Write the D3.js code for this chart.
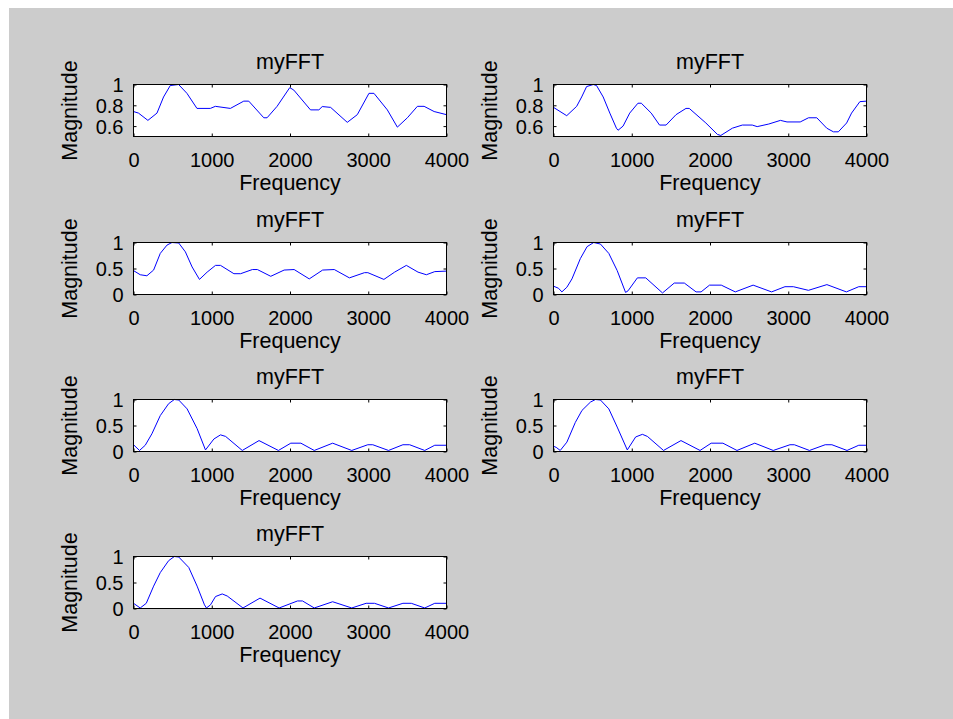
<!DOCTYPE html>
<html>
<head>
<meta charset="utf-8">
<script src="https://cdn.jsdelivr.net/npm/d3@7"></script>
<style>
  html, body { margin: 0; padding: 0; background: #ffffff; }
  svg { display: block; }
  text { font-family: "Liberation Sans", Arial, sans-serif; fill: #000; }
</style>
</head>
<body>
<div id="visualization"></div>
<script>
// ---- data: frequency (Hz) / normalised magnitude ----
const fft1Freq = [0, 64, 184, 300, 384, 470, 576, 683, 811, 982, 1046, 1238, 1409, 1473, 1665, 1707, 1835, 1997, 2049, 2262, 2369, 2412, 2519, 2732, 2860, 3009, 3073, 3244, 3372, 3500, 3628, 3714, 3842, 4000];
const fft1Mag  = [0.74, 0.725, 0.655, 0.725, 0.88, 0.99, 1.0, 0.915, 0.77, 0.77, 0.79, 0.77, 0.84, 0.84, 0.68, 0.68, 0.79, 0.97, 0.946, 0.756, 0.756, 0.788, 0.78, 0.636, 0.71, 0.915, 0.915, 0.756, 0.59, 0.68, 0.79, 0.79, 0.74, 0.71];

const fft2Freq = [0, 169, 296, 360, 423, 508, 550, 635, 720, 804, 825, 889, 974, 1079, 1122, 1249, 1355, 1439, 1566, 1693, 1735, 1947, 2095, 2138, 2286, 2413, 2540, 2603, 2751, 2900, 2984, 3153, 3259, 3365, 3492, 3577, 3640, 3746, 3809, 3915, 4000];
const fft2Mag  = [0.78, 0.70, 0.79, 0.88, 0.98, 1.0, 0.99, 0.88, 0.725, 0.58, 0.56, 0.60, 0.725, 0.82, 0.82, 0.725, 0.61, 0.61, 0.71, 0.77, 0.77, 0.63, 0.52, 0.51, 0.58, 0.61, 0.61, 0.595, 0.62, 0.655, 0.64, 0.64, 0.68, 0.68, 0.58, 0.545, 0.545, 0.63, 0.725, 0.835, 0.84];

const fft3Freq = [0, 86, 171, 257, 342, 428, 492, 578, 663, 749, 843, 941, 1048, 1112, 1283, 1369, 1519, 1583, 1754, 1925, 2053, 2246, 2417, 2566, 2759, 2952, 2995, 3200, 3337, 3487, 3636, 3743, 3850, 4000];
const fft3Mag  = [0.46, 0.38, 0.36, 0.47, 0.79, 0.95, 1.0, 0.99, 0.82, 0.53, 0.29, 0.43, 0.56, 0.56, 0.40, 0.40, 0.48, 0.48, 0.35, 0.47, 0.48, 0.30, 0.47, 0.48, 0.32, 0.42, 0.42, 0.29, 0.43, 0.56, 0.43, 0.38, 0.44, 0.45];

const fft4Freq = [0, 64, 107, 171, 236, 343, 429, 514, 600, 707, 814, 921, 952, 1072, 1179, 1393, 1543, 1672, 1822, 1886, 1994, 2144, 2323, 2551, 2787, 2958, 3065, 3258, 3494, 3743, 3901, 4000];
const fft4Mag  = [0.16, 0.12, 0.05, 0.14, 0.30, 0.69, 0.92, 1.0, 0.97, 0.79, 0.46, 0.04, 0.07, 0.32, 0.32, 0.03, 0.22, 0.22, 0.05, 0.05, 0.18, 0.18, 0.05, 0.18, 0.05, 0.15, 0.15, 0.08, 0.19, 0.05, 0.15, 0.15];

const fft5Freq = [0, 77, 150, 235, 342, 449, 522, 578, 685, 813, 920, 1027, 1112, 1177, 1390, 1604, 1852, 2010, 2139, 2310, 2545, 2789, 2994, 3058, 3259, 3443, 3529, 3722, 3850, 4000];
const fft5Mag  = [0.13, 0.02, 0.12, 0.34, 0.69, 0.92, 1.0, 0.99, 0.82, 0.44, 0.03, 0.24, 0.32, 0.29, 0.02, 0.21, 0.02, 0.16, 0.16, 0.02, 0.16, 0.02, 0.13, 0.13, 0.02, 0.13, 0.13, 0.02, 0.12, 0.12];

const fft6Freq = [0, 34, 86, 171, 279, 364, 472, 536, 600, 707, 814, 943, 1050, 1136, 1200, 1406, 1629, 1873, 2015, 2165, 2345, 2572, 2808, 3022, 3078, 3271, 3472, 3558, 3751, 3901, 4000];
const fft6Mag  = [0.10, 0.08, 0.02, 0.18, 0.56, 0.79, 0.95, 1.0, 0.99, 0.82, 0.47, 0.03, 0.28, 0.33, 0.29, 0.02, 0.21, 0.02, 0.16, 0.16, 0.02, 0.16, 0.02, 0.13, 0.13, 0.02, 0.13, 0.13, 0.02, 0.12, 0.12];

const fft7Freq = [0, 86, 163, 257, 342, 449, 522, 578, 706, 813, 907, 932, 984, 1048, 1134, 1198, 1399, 1617, 1861, 2096, 2160, 2310, 2545, 2789, 2973, 3080, 3259, 3443, 3550, 3722, 3850, 4000];
const fft7Mag  = [0.10, 0.01, 0.10, 0.43, 0.69, 0.92, 1.0, 0.99, 0.79, 0.43, 0.07, 0.01, 0.07, 0.23, 0.28, 0.24, 0.01, 0.20, 0.01, 0.145, 0.145, 0.01, 0.13, 0.01, 0.10, 0.10, 0.01, 0.10, 0.10, 0.01, 0.10, 0.10];

const xTicks = [0, 1000, 2000, 3000, 4000];
const yTicksTop = [0.6, 0.8, 1];
const yTicksLow = [0, 0.5, 1];
const yDomainTop = [0.5, 1];
const yDomainLow = [0, 1];

const panels = [
  { freq: fft1Freq, mag: fft1Mag, yDomain: yDomainTop, yTicks: yTicksTop },
  { freq: fft2Freq, mag: fft2Mag, yDomain: yDomainTop, yTicks: yTicksTop },
  { freq: fft3Freq, mag: fft3Mag, yDomain: yDomainLow, yTicks: yTicksLow },
  { freq: fft4Freq, mag: fft4Mag, yDomain: yDomainLow, yTicks: yTicksLow },
  { freq: fft5Freq, mag: fft5Mag, yDomain: yDomainLow, yTicks: yTicksLow },
  { freq: fft6Freq, mag: fft6Mag, yDomain: yDomainLow, yTicks: yTicksLow },
  { freq: fft7Freq, mag: fft7Mag, yDomain: yDomainLow, yTicks: yTicksLow }
];

// ---- layout (MATLAB 4x2 subplot grid) ----
const width = 953;
const height = 719;
const colLeft = [133.5, 553.5];
const plotW = 313;
const rowTop = [84.5, 242.5, 399.5, 556.5];
const plotH = 52;
const tickLen = 3;

const svg = d3.select("#visualization")
  .append("svg")
  .attr("width", width)
  .attr("height", height);

// figure background
svg.append("rect")
  .attr("x", 9).attr("y", 8)
  .attr("width", width - 9).attr("height", height - 8)
  .attr("fill", "#cccccc");

panels.forEach((p, i) => {
  const left = colLeft[i % 2];
  const top = rowTop[Math.floor(i / 2)];

  const x = d3.scaleLinear().domain([0, 4000]).range([left, left + plotW]);
  const y = d3.scaleLinear().domain(p.yDomain).range([top + plotH, top]);

  const g = svg.append("g");

  g.append("rect")
    .attr("x", left).attr("y", top)
    .attr("width", plotW).attr("height", plotH)
    .attr("fill", "#ffffff");

  // data line
  const pts = p.freq.map((f, k) => [f, p.mag[k]]);
  g.append("path")
    .datum(pts)
    .attr("fill", "none")
    .attr("stroke", "#0000ff")
    .attr("stroke-width", 1)
    .attr("d", d3.line().x(d => x(d[0])).y(d => y(d[1])));

  // axes: inward ticks on all four sides
  const axB = g.append("g")
    .attr("transform", `translate(0,${top + plotH})`)
    .call(d3.axisBottom(x).tickValues(xTicks).tickSize(-tickLen).tickSizeOuter(0).tickFormat(d3.format("d")));
  const axT = g.append("g")
    .attr("transform", `translate(0,${top})`)
    .call(d3.axisTop(x).tickValues(xTicks).tickSize(-tickLen).tickSizeOuter(0).tickFormat(""));
  const axL = g.append("g")
    .attr("transform", `translate(${left},0)`)
    .call(d3.axisLeft(y).tickValues(p.yTicks).tickSize(-tickLen).tickSizeOuter(0).tickPadding(10).tickFormat(d3.format("")));
  const axR = g.append("g")
    .attr("transform", `translate(${left + plotW},0)`)
    .call(d3.axisRight(y).tickValues(p.yTicks).tickSize(-tickLen).tickSizeOuter(0).tickFormat(""));

  [axB, axT, axL, axR].forEach(a => {
    a.select(".domain").remove();
    a.selectAll("line").attr("stroke", "#000");
    a.selectAll("text")
      .style("font-family", "'Liberation Sans', Arial, sans-serif")
      .style("font-size", "20px")
      .attr("fill", "#000");
  });
  axB.selectAll("text").attr("dy", "0.71em").attr("y", 16);
  axL.selectAll("text").attr("dy", "0.36em");

  // box
  g.append("rect")
    .attr("x", left).attr("y", top)
    .attr("width", plotW).attr("height", plotH)
    .attr("fill", "none")
    .attr("stroke", "#000")
    .attr("stroke-width", 1);

  // title
  g.append("text")
    .attr("x", left + plotW / 2)
    .attr("y", top - 16)
    .attr("text-anchor", "middle")
    .style("font-size", "21.5px")
    .text("myFFT");

  // x label
  g.append("text")
    .attr("x", left + plotW / 2)
    .attr("y", top + plotH + 53)
    .attr("text-anchor", "middle")
    .style("font-size", "21.5px")
    .text("Frequency");

  // y label
  g.append("text")
    .attr("transform", `translate(${left - 57},${top + plotH / 2}) rotate(-90)`)
    .attr("text-anchor", "middle")
    .style("font-size", "21.5px")
    .text("Magnitude");
});
</script>
</body>
</html>
